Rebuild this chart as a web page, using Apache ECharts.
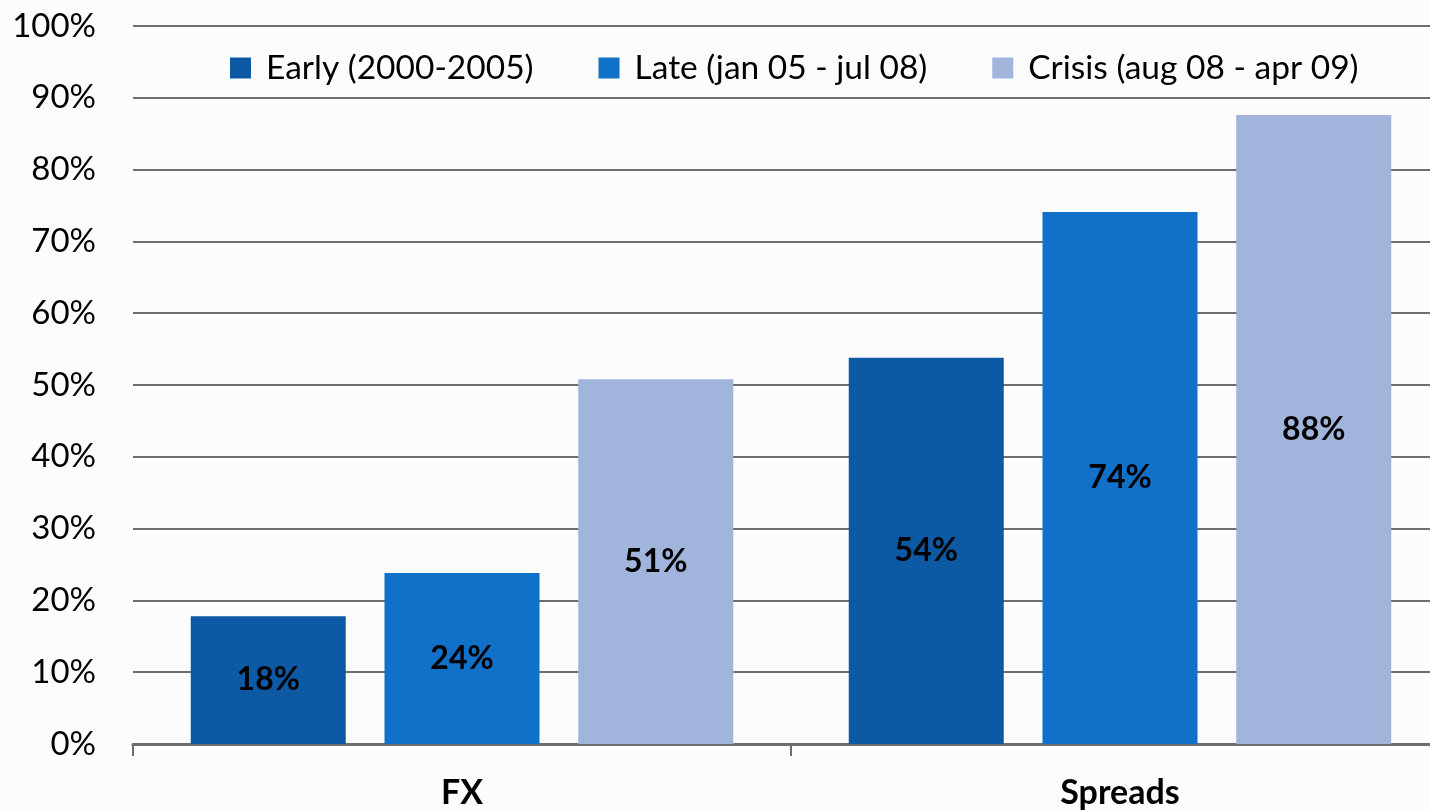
<!DOCTYPE html>
<html>
<head>
<meta charset="utf-8">
<script src="https://cdn.jsdelivr.net/npm/echarts@6/dist/echarts.min.js"></script>
<style>
html,body{margin:0;padding:0;background:#fcfcfc;overflow:hidden;}
#c{width:1449px;height:810px;}
</style>
</head>
<body>
<div id="c"></div>
<script>
var categories = ['FX', 'Spreads'];
var seriesNames = ['Early (2000-2005)', 'Late (jan 05 - jul 08)', 'Crisis (aug 08 - apr 09)'];
var early = [17.8, 53.8];
var late = [23.8, 74.1];
var crisis = [50.8, 87.6];
var yTicks = [0, 10, 20, 30, 40, 50, 60, 70, 80, 90, 100];
var colors = ['#0d59a3', '#1170c8', '#a0b4dc'];

var FONT = 'Lato, "Open Sans", sans-serif';
var chart = echarts.init(document.getElementById('c'), null, {renderer: 'canvas'});

function mk(name, data, color) {
  return {
    name: name,
    type: 'bar',
    data: data,
    barWidth: 155,
    barGap: '25%',
    itemStyle: {color: color},
    label: {
      show: true,
      position: 'inside',
      color: '#000',
      fontFamily: FONT,
      fontWeight: 'bold',
      fontSize: 32,
      padding: [6, 0, 0, 0],
      formatter: function (p) { return Math.round(p.value) + '%'; }
    }
  };
}

chart.setOption({
  backgroundColor: '#fcfcfc',
  animation: false,
  grid: {left: 133, right: 0, top: 26, bottom: 65, containLabel: false},
  legend: {
    top: 46,
    left: 225,
    itemWidth: 21,
    itemHeight: 21,
    itemGap: 65,
    icon: 'rect',
    textStyle: {fontFamily: FONT, fontSize: 33.5, color: '#000', padding: [0, 0, 0, 10]},
    data: seriesNames
  },
  xAxis: {
    type: 'category',
    data: categories,
    axisLine: {lineStyle: {color: '#6e6e6e', width: 3}},
    axisTick: {show: true, length: 12, lineStyle: {color: '#6e6e6e', width: 2}},
    axisLabel: {fontFamily: FONT, fontWeight: 'bold', fontSize: 34, color: '#000', margin: 32}
  },
  yAxis: {
    type: 'value',
    min: yTicks[0],
    max: yTicks[yTicks.length - 1],
    interval: 10,
    axisLine: {show: false},
    axisTick: {show: false},
    splitLine: {lineStyle: {color: '#6e6e6e', width: 2}},
    axisLabel: {fontFamily: FONT, fontSize: 33, color: '#000', margin: 37, formatter: '{value}%'}
  },
  series: [
    mk(seriesNames[0], early, colors[0]),
    mk(seriesNames[1], late, colors[1]),
    mk(seriesNames[2], crisis, colors[2])
  ]
});
</script>
</body>
</html>
